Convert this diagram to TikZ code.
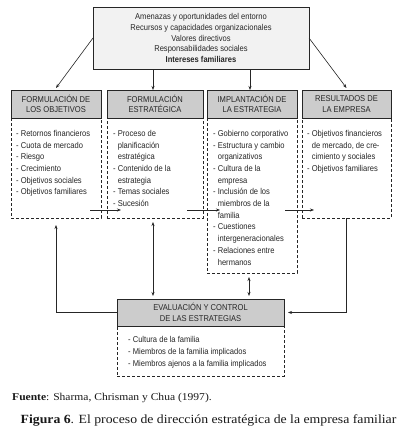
\documentclass[tikz,border=0pt]{standalone}
\usepackage{fontspec}
\setmainfont{Liberation Serif}
\newfontfamily\condf[FakeStretch=0.89]{Liberation Sans}
\newfontfamily\capf[FakeStretch=1.1]{Liberation Serif}
\usetikzlibrary{arrows.meta}
\begin{document}
\begin{tikzpicture}[x=1pt,y=-1pt,
  frame/.style={draw=black!85, line width=0.7pt, inner sep=0pt, outer sep=0pt},
  topbox/.style={frame, fill=black!5, minimum width=216pt, minimum height=62pt, align=center,
     font=\condf\fontsize{8.5}{10.8}\selectfont, text=black!85},
  hdr/.style={frame, fill=black!20, minimum height=28pt, align=center,
     font=\condf\fontsize{8.5}{10.5}\selectfont, text=black!85},
  bodybox/.style={frame, dash pattern=on 3pt off 2pt, anchor=north},
  txt/.style={inner sep=0pt, align=left, anchor=north west,
     font=\condf\fontsize{8.5}{11.7}\selectfont, text=black!85},
  arr/.style={line width=0.6pt, draw=black!85, -{Stealth[length=4pt,width=3pt]}},
  darr/.style={line width=0.6pt, draw=black!85, {Stealth[length=4pt,width=3pt]}-{Stealth[length=4pt,width=3pt]}}
]
\useasboundingbox (0,0) rectangle (405,434);
\fill[white] (0,0) rectangle (405,434);

% top box
\node[topbox] (top) at (201,38) {Amenazas y oportunidades del entorno\\Recursos y capacidades organizacionales\\Valores directivos\\Responsabilidades sociales\\\textbf{Intereses familiares}};

% headers
\node[hdr, minimum width=90pt] (h1) at (56,104) {FORMULACIÓN DE\\LOS OBJETIVOS};
\node[hdr, minimum width=96pt] (h2) at (155,104) {FORMULACIÓN\\ESTRATÉGICA};
\node[hdr, minimum width=90pt] (h3) at (252,104) {IMPLANTACIÓN DE\\LA ESTRATEGIA};
\node[hdr, minimum width=89pt] (h4) at (346.5,104) {RESULTADOS DE\\LA EMPRESA};

% dashed bodies
\node[bodybox, minimum width=90pt, minimum height=100pt] (b1) at (h1.south) {};
\node[bodybox, minimum width=96pt, minimum height=100pt] (b2) at (h2.south) {};
\node[bodybox, minimum width=90pt, minimum height=155pt] (b3) at (h3.south) {};
\node[bodybox, minimum width=89pt, minimum height=100pt] (b4) at (h4.south) {};

% body texts
\node[txt] (t1) at (16,130) {- Retornos financieros\\- Cuota de mercado\\- Riesgo\\- Crecimiento\\- Objetivos sociales\\- Objetivos familiares};
\node[txt] (t2) at (113,130) {- Proceso de\\\phantom{- }planificación\\\phantom{- }estratégica\\- Contenido de la\\\phantom{- }estrategia\\- Temas sociales\\- Sucesión};
\node[txt] (t3) at (213,130) {- Gobierno corporativo\\- Estructura y cambio\\\phantom{- }organizativos\\- Cultura de la\\\phantom{- }empresa\\- Inclusión de los\\\phantom{- }miembros de la\\\phantom{- }familia\\- Cuestiones\\\phantom{- }intergeneracionales\\- Relaciones entre\\\phantom{- }hermanos};
\node[txt] (t4) at (307,130) {- Objetivos financieros\\\phantom{- }de mercado, de cre-\\\phantom{- }cimiento y sociales\\- Objetivos familiares};

% evaluation box
\node[hdr, minimum width=167pt, minimum height=27pt] (ev) at (200.5,312.5) {EVALUACIÓN Y CONTROL\\DE LAS ESTRATEGIAS};
\node[bodybox, minimum width=167pt, minimum height=50pt] (evb) at (ev.south) {};
\node[txt] (te) at (128,336.5) {- Cultura de la familia\\- Miembros de la familia implicados\\- Miembros ajenos a la familia implicados};

% arrows from top box
\draw[arr] (top.west) -- ([yshift=2pt]h1.north);
\draw[arr] (top.east) -- ([yshift=2pt]h4.north);
\coordinate (v2) at ([xshift=-2pt]h2.north);
\coordinate (v3) at ([xshift=-2pt]h3.north);
\draw[arr] (top.south -| v2) -- (v2);
\draw[arr] (top.south -| v3) -- (v3);

% horizontal arrows along the row
\coordinate (a1s) at (90,210);  \coordinate (a1e) at (121,210);
\coordinate (a2s) at (187,210); \coordinate (a2e) at (220,210);
\coordinate (a3s) at (285,210); \coordinate (a3e) at (314,210);
\draw[arr] (a1s) -- (a1e);
\draw[arr] (a2s) -- (a2e);
\draw[arr] (a3s) -- (a3e);

% vertical double arrows to evaluation
\coordinate (w2) at ([xshift=-2pt,yshift=-4pt]b2.south);
\coordinate (w3) at ([xshift=-3pt,yshift=-4pt]b3.south);
\coordinate (e2) at (ev.north -| w2);
\coordinate (e3) at (ev.north -| w3);
\draw[darr] (w2) -- ([yshift=3pt]e2);
\draw[darr] (w3) -- ([yshift=3pt]e3);

% feedback loops
\draw[arr] (ev.west) -| ([yshift=-7pt]b1.south);
\draw[arr, shorten >=4pt] (b4.south) |- (ev.east);

% captions
\node[anchor=base west, inner sep=0pt, font=\capf\fontsize{10.5}{12}\selectfont, text=black!90] (src) at (12,400) {\textbf{Fuente}: Sharma, Chrisman y Chua (1997).};
\node[anchor=base, inner sep=0pt, font=\capf\fontsize{12.5}{15}\selectfont, text=black!90] (cap) at (208.5,423) {\textbf{Figura 6}. El proceso de dirección estratégica de la empresa familiar};
\end{tikzpicture}
\end{document}
